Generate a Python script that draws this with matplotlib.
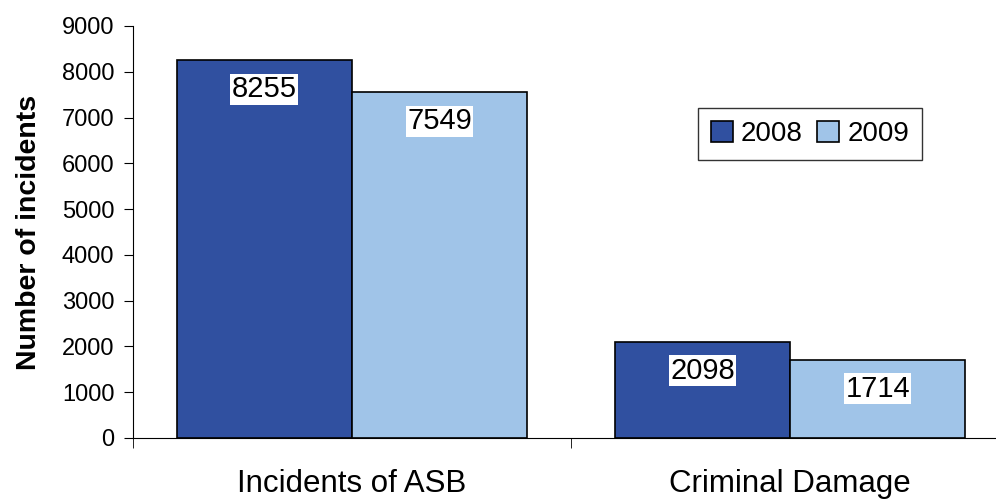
import numpy as np
import matplotlib.pyplot as plt

plt.rcParams['font.family'] = ['Liberation Sans', 'DejaVu Sans']

categories = ['Incidents of ASB', 'Criminal Damage']
years = ['2008', '2009']
vals_2008 = [8255, 2098]
vals_2009 = [7549, 1714]
yticks = [0, 1000, 2000, 3000, 4000, 5000, 6000, 7000, 8000, 9000]

fig = plt.figure(figsize=(9.96, 4.99), dpi=100)
ax = fig.add_axes([133/996, 1 - 438/499, 876/996, (438 - 26)/499])

x = np.arange(len(categories))
w = 0.4
b1 = ax.bar(x - w/2, vals_2008, w, color='#3050A0', edgecolor='black', linewidth=1.2, label=years[0])
b2 = ax.bar(x + w/2, vals_2009, w, color='#A0C4E8', edgecolor='black', linewidth=1.2, label=years[1])

for bars in (b1, b2):
    for r in bars:
        ax.annotate(str(int(r.get_height())), (r.get_x() + r.get_width()/2, r.get_height()),
                    xytext=(0, -29), textcoords='offset pixels', ha='center', va='center',
                    fontsize=21, bbox=dict(facecolor='white', edgecolor='none', pad=1))

ax.set_xlim(-0.5, 1.5)
ax.set_ylim(0, 9000)
ax.set_yticks(yticks)
ax.tick_params(axis='y', labelsize=17, direction='out', length=6.5, pad=7)
ax.set_xticks(x)
ax.set_xticklabels(categories, fontsize=22.5)
ax.tick_params(axis='x', which='major', length=0, pad=22)
ax.set_xticks([-0.5, 0.5, 1.5], minor=True)
ax.tick_params(axis='x', which='minor', direction='out', length=7)
ax.spines['top'].set_visible(False)
ax.spines['right'].set_visible(False)
ax.set_ylabel('Number of incidents', fontsize=20.5, fontweight='bold', labelpad=14)

ax.legend(loc='upper left', bbox_to_anchor=(0.645, 0.80), ncol=2, fontsize=20, frameon=True,
          fancybox=False, edgecolor='black', handlelength=0.8, handleheight=0.8,
          handletextpad=0.3, columnspacing=0.5, borderpad=0.45, borderaxespad=0)

fig.savefig('out.png', dpi=100)
